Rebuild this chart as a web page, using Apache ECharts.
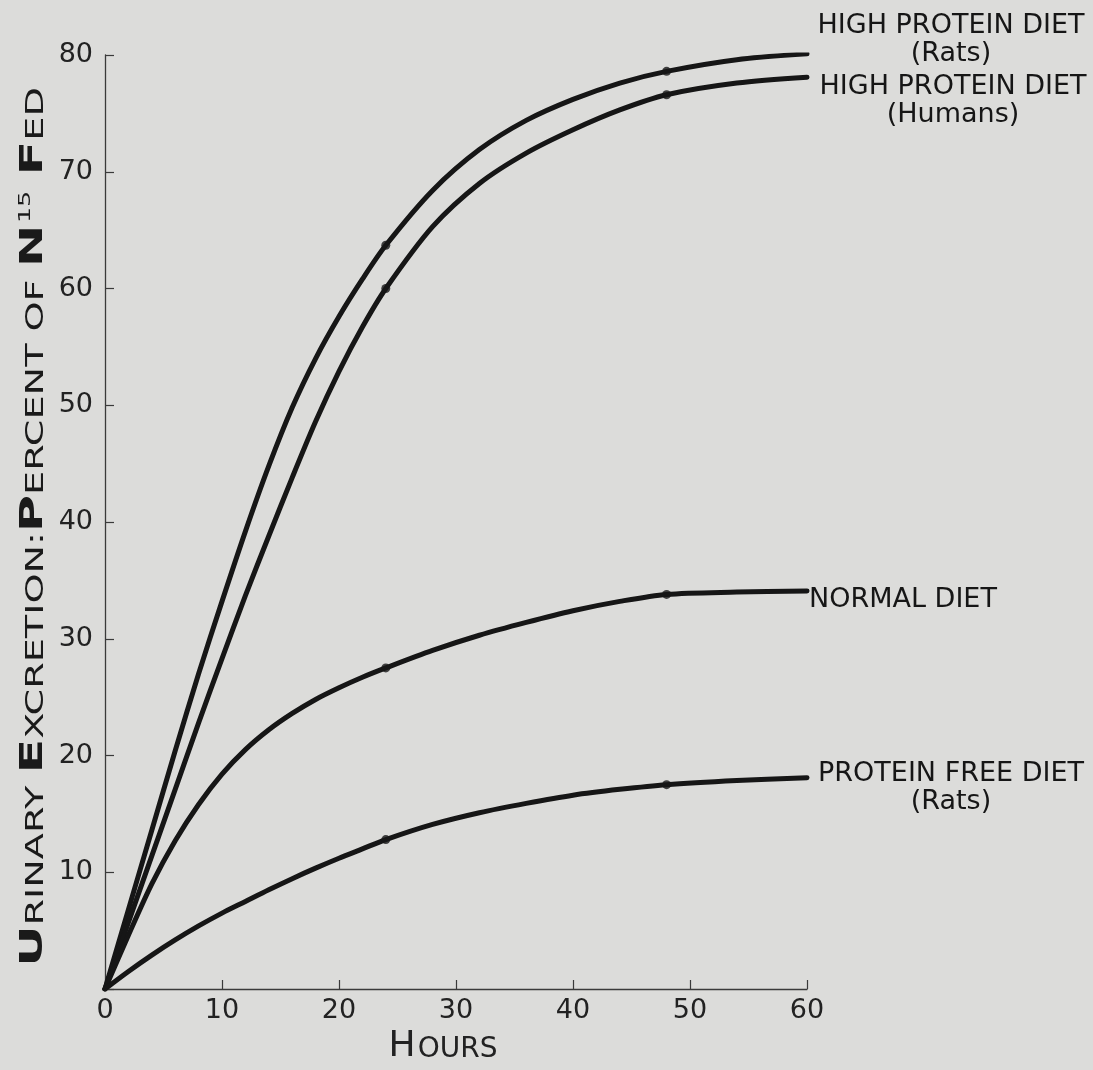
<!DOCTYPE html>
<html><head><meta charset="utf-8">
<script src="https://cdn.jsdelivr.net/npm/echarts@6/dist/echarts.min.js"></script>
<style>html,body{margin:0;padding:0;background:#dcdcda}#c{width:1093px;height:1070px}</style>
</head><body><div id="c"></div>
<script>
// Hours at which the curves were read
const hours = [0, 2, 4, 6, 8, 10, 12, 14, 16, 18, 20, 22, 24, 28, 32, 36, 40, 44, 48, 54, 60];
// Urinary excretion, percent of N15 fed
const highProteinRats   = [0, 6.8, 13.6, 20.4, 27.0, 33.2, 39.2, 44.8, 49.8, 54.0, 57.6, 60.8, 63.7, 68.4, 71.9, 74.4, 76.2, 77.6, 78.6, 79.6, 80.1];
const highProteinHumans = [0, 5.7, 11.4, 17.1, 22.8, 28.3, 33.7, 38.8, 43.8, 48.6, 52.9, 56.7, 60.0, 65.3, 69.0, 71.6, 73.6, 75.3, 76.6, 77.6, 78.1];
const normalDiet        = [0, 4.6, 9.0, 12.7, 15.8, 18.4, 20.5, 22.2, 23.6, 24.8, 25.8, 26.7, 27.5, 29.0, 30.3, 31.4, 32.4, 33.2, 33.8, 34.0, 34.1];
const proteinFreeRats   = [0, 1.5, 2.9, 4.2, 5.4, 6.5, 7.5, 8.5, 9.45, 10.35, 11.2, 12.0, 12.8, 14.1, 15.1, 15.9, 16.6, 17.1, 17.5, 17.85, 18.1];
// Hours at which measured points are marked
const markerHours = [24, 48];
const xTicks = [0, 10, 20, 30, 40, 50, 60];
const yTicks = [0, 10, 20, 30, 40, 50, 60, 70, 80];

const curveNames = ['HIGH PROTEIN DIET\n(Rats)', 'HIGH PROTEIN DIET\n(Humans)', 'NORMAL DIET', 'PROTEIN FREE DIET\n(Rats)'];
const curves = [highProteinRats, highProteinHumans, normalDiet, proteinFreeRats];
const labelOffsets = [[144, -14], [146, 24], [2, 9], [144, 10]];
const labelAligns = ['center', 'center', 'left', 'center'];

const ink = '#161616';
const font = 'DejaVu Sans';

const series = [];
curves.forEach((vals, i) => {
  series.push({
    type: 'line',
    name: curveNames[i],
    data: hours.map((h, j) => [h, vals[j]]),
    smooth: 0.3,
    symbol: 'none',
    lineStyle: { color: ink, width: 5, cap: 'round' },
    endLabel: {
      show: true,
      formatter: curveNames[i],
      color: ink,
      fontFamily: font,
      fontSize: 27,
      lineHeight: 28,
      align: labelAligns[i],
      verticalAlign: 'middle',
      offset: labelOffsets[i],
      distance: 0
    },
    z: 3
  });
  series.push({
    type: 'scatter',
    data: hours.map((h, j) => [h, vals[j]]).filter(p => markerHours.includes(p[0])),
    symbol: 'circle',
    symbolSize: 9,
    itemStyle: { color: ink },
    z: 4
  });
});

const chart = echarts.init(document.getElementById('c'), null, { renderer: 'canvas' });
chart.setOption({
  backgroundColor: '#dcdcda',
  animation: false,
  grid: { left: 105, right: 286, top: 55, bottom: 79, containLabel: false },
  xAxis: {
    type: 'value', min: xTicks[0], max: xTicks[xTicks.length - 1], interval: 10,
    axisLine: { lineStyle: { color: '#3a3a3a', width: 1.3 } },
    axisTick: { inside: true, length: 9, lineStyle: { color: '#3a3a3a', width: 1.2 } },
    axisLabel: { color: '#222', fontFamily: font, fontSize: 27, margin: 8 },
    splitLine: { show: false },
    name: '{a|H}{b|OURS}',
    nameLocation: 'middle',
    nameGap: 40,
    nameTextStyle: {
      padding: [0, 26, 0, 0],
      rich: {
        a: { fontFamily: font, fontSize: 36, color: '#222' },
        b: { fontFamily: font, fontSize: 28, color: '#222', padding: [5, 0, 0, 2] }
      }
    }
  },
  yAxis: {
    type: 'value', min: yTicks[0], max: yTicks[yTicks.length - 1], interval: 10,
    axisLine: { show: true, lineStyle: { color: '#3a3a3a', width: 1.3 } },
    axisTick: { show: true, inside: true, length: 9, lineStyle: { color: '#3a3a3a', width: 1.2 } },
    axisLabel: {
      color: '#222', fontFamily: font, fontSize: 27, margin: 12,
      formatter: v => (v === 0 ? '' : String(v))
    },
    splitLine: { show: false }
  },
  graphic: [{
    type: 'text',
    x: 34,
    y: 527,
    rotation: Math.PI / 2,
    scaleX: 1.59,
    style: {
      text: '{a|U}{b|RINARY }{a|E}{b|XCRETION:}{a|P}{b|ERCENT OF }{a|N}{s|15}{b| }{a|F}{b|ED}',
      align: 'center',
      verticalAlign: 'middle',
      rich: {
        a: { fontFamily: font, fontSize: 32, fill: '#1a1a1a', fontWeight: 'bold' },
        b: { fontFamily: font, fontSize: 24, fill: '#1a1a1a', padding: [5, 0, 0, 0] },
        s: { fontFamily: font, fontSize: 16, fill: '#1a1a1a', padding: [0, 2, 16, 1] }
      }
    }
  }],
  series: series
});
</script>
</body></html>
